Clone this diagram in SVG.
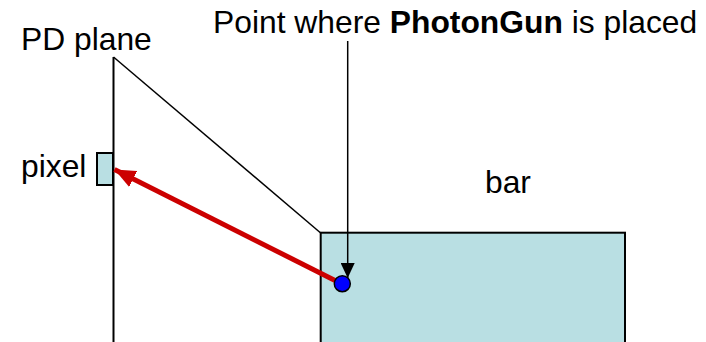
<svg xmlns="http://www.w3.org/2000/svg" width="706" height="342" viewBox="0 0 706 342">
<defs>
<style>
.t{font-family:"Liberation Sans",Arial,sans-serif;font-size:31.8px;fill:#000}
.ln{stroke:#000;stroke-width:2;fill:none}
</style>
<marker id="ab" markerUnits="userSpaceOnUse" markerWidth="16" markerHeight="14" refX="15" refY="7" orient="auto"><path d="M0,0 L15,7 L0,14 Z" fill="#000"/></marker>
<marker id="ar" markerUnits="userSpaceOnUse" markerWidth="22" markerHeight="18" refX="21" refY="9" orient="auto"><path d="M0,0 L21,9 L0,18 Z" fill="#CC0000"/></marker>
</defs>
<rect width="706" height="342" fill="#fff"/>
<g id="pdplane">
<line class="ln" x1="113.5" y1="57" x2="113.5" y2="342"/>
<line x1="113.5" y1="57" x2="320.7" y2="233" stroke="#000" stroke-width="1.5"/>
<text class="t" x="21" y="50">PD plane</text>
</g>
<g id="pixel">
<rect x="97" y="153" width="16" height="32" fill="#B9DFE3" stroke="#000" stroke-width="2"/>
<text class="t" x="21" y="177">pixel</text>
</g>
<g id="bar">
<rect x="320.7" y="232.7" width="304.3" height="120" fill="#B9DFE3" stroke="#000" stroke-width="2"/>
<text class="t" x="485" y="193">bar</text>
</g>
<g id="label">
<text class="t" x="213" y="33">Point where <tspan font-weight="bold">PhotonGun</tspan> is placed</text>
</g>
<g id="connectors">
<line x1="347.7" y1="41" x2="347.7" y2="278" stroke="#000" stroke-width="1.5" marker-end="url(#ab)"/>
<line x1="342" y1="284" x2="114.5" y2="169.5" stroke="#CC0000" stroke-width="5" marker-end="url(#ar)"/>
</g>
<g id="photongun">
<circle cx="342.3" cy="283.7" r="8" fill="#0000FF" stroke="#000" stroke-width="1.5"/>
</g>
</svg>
